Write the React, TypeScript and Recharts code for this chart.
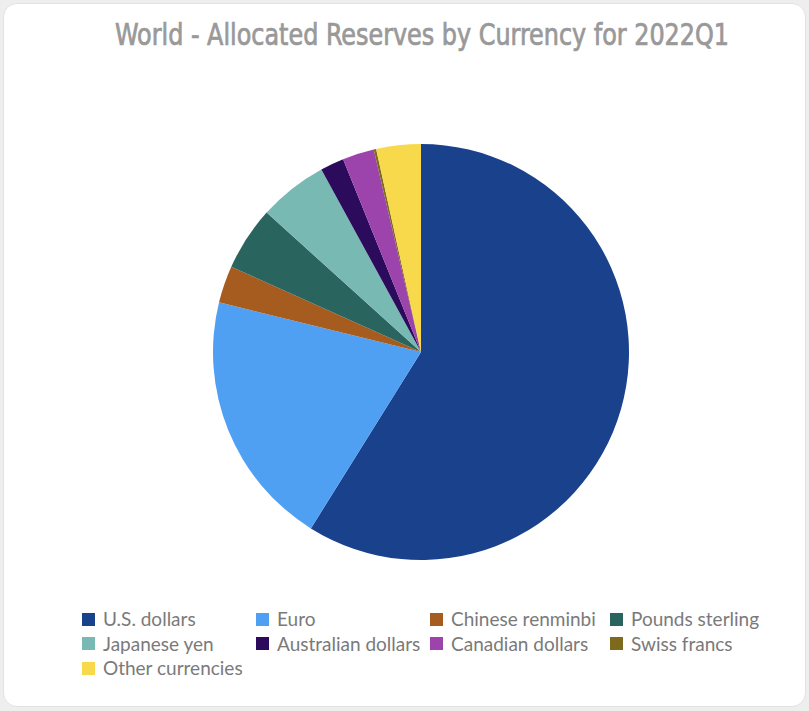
import { PieChart, Pie, Cell, Legend } from 'recharts';

const CURRENCIES = [
  'U.S. dollars',
  'Euro',
  'Chinese renminbi',
  'Pounds sterling',
  'Japanese yen',
  'Australian dollars',
  'Canadian dollars',
  'Swiss francs',
  'Other currencies',
];

// share of allocated reserves, percent
const SHARES = [58.88, 19.96, 2.88, 4.97, 5.36, 1.84, 2.46, 0.19, 3.46];

const COLORS = [
  '#1a428c',
  '#4fa0f2',
  '#a65b1f',
  '#2a645f',
  '#79b9b4',
  '#2c0a5c',
  '#9c44ab',
  '#7d6a1c',
  '#f8d94b',
];

const data = CURRENCIES.map((name, i) => ({ name, value: SHARES[i] }));

const COL_X = [0, 174, 348, 528];

function LegendGrid() {
  return (
    <div style={{ position: 'relative', width: 720, height: 80 }}>
      {CURRENCIES.map((name, i) => (
        <div
          key={name}
          style={{
            position: 'absolute',
            left: COL_X[i % 4],
            top: Math.floor(i / 4) * 24.5,
            display: 'flex',
            alignItems: 'center',
            whiteSpace: 'nowrap',
          }}
        >
          <span
            style={{
              display: 'inline-block',
              width: 13,
              height: 13,
              background: COLORS[i],
              marginRight: 8,
            }}
          />
          <span style={{ fontFamily: 'Lato, sans-serif', fontSize: 19, lineHeight: '22px', color: '#7a7a7a' }}>
            {name}
          </span>
        </div>
      ))}
    </div>
  );
}

export default function App() {
  return (
    <div
      style={{
        position: 'absolute',
        left: 0,
        top: 0,
        width: 809,
        height: 711,
        background: '#eeeeee',
      }}
    >
      <div
        style={{
          position: 'absolute',
          left: 3,
          top: 3,
          width: 801,
          height: 702,
          background: '#ffffff',
          border: '1px solid #e2e2e2',
          borderRadius: 14,
        }}
      >
        <svg width={801} height={80} style={{ position: 'absolute', left: 0, top: 0 }}>
          <text
            x={418}
            y={33}
            transform="scale(1, 1.24)"
            textAnchor="middle"
            fill="#999999"
            stroke="#999999"
            strokeWidth={0.6}
            fontSize={25}
            fontFamily="'DejaVu Sans Condensed', sans-serif"
            textLength={614}
            lengthAdjust="spacingAndGlyphs"
          >
            World - Allocated Reserves by Currency for 2022Q1
          </text>
        </svg>
        <div style={{ position: 'absolute', left: 0, top: 0 }}>
          <PieChart width={801} height={702}>
            <Pie
              data={data}
              dataKey="value"
              nameKey="name"
              cx={412}
              cy={343}
              outerRadius={208}
              startAngle={90}
              endAngle={-270}
              stroke="none"
              isAnimationActive={false}
            >
              {data.map((d, i) => (
                <Cell key={d.name} fill={COLORS[i]} />
              ))}
            </Pie>
            <Legend
              content={() => <LegendGrid />}
              wrapperStyle={{ position: 'absolute', left: 78, top: 604, width: 720, height: 80 }}
            />
          </PieChart>
        </div>
      </div>
    </div>
  );
}
